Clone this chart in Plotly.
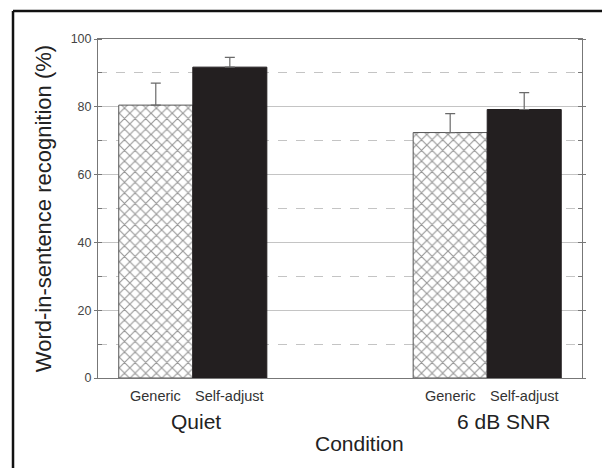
import plotly.graph_objects as go

groups = ["Quiet", "6 dB SNR"]
series_names = ["Generic", "Self-adjust"]
generic = [80.5, 72.4]
self_adjust = [91.7, 79.2]
generic_err = [6.5, 5.6]
self_err = [2.9, 5.0]
y_ticks = [0, 20, 40, 60, 80, 100]

FONT = "Liberation Sans, Arial, sans-serif"
BARGAP = 0.497
bar_w = (1 - BARGAP) / 2

fig = go.Figure()
fig.add_trace(go.Bar(
    x=groups, y=generic, name=series_names[0],
    marker=dict(color="white", line=dict(color="#555555", width=1),
                pattern=dict(shape="x", size=7.5, solidity=0.28,
                             fgcolor="#2e2e2e", bgcolor="white", fillmode="overlay")),
    error_y=dict(type="data", symmetric=False, array=generic_err,
                 arrayminus=[0] * len(generic), color="#6a6a6a", thickness=1.2, width=5),
))
fig.add_trace(go.Bar(
    x=groups, y=self_adjust, name=series_names[1],
    marker=dict(color="#231f20", line=dict(color="#231f20", width=1)),
    error_y=dict(type="data", symmetric=False, array=self_err,
                 arrayminus=[0] * len(self_adjust), color="#6a6a6a", thickness=1.2, width=5),
))

ann = []
for i, g in enumerate(groups):
    for j, s in enumerate(series_names):
        ann.append(dict(x=i + (j - 0.5) * bar_w, y=-0.053, xref="x", yref="paper",
                        text=s, showarrow=False, yanchor="middle",
                        font=dict(size=14.5, color="#333333", family=FONT)))
    ann.append(dict(x=i, y=-0.128, xref="x", yref="paper", text=g, showarrow=False,
                    yanchor="middle", xshift=3 if i == 0 else 16,
                    font=dict(size=21, color="#222222", family=FONT)))
ann.append(dict(x=0.541, y=-0.193, xref="paper", yref="paper", text="Condition",
                showarrow=False, yanchor="middle",
                font=dict(size=21, color="#222222", family=FONT)))

fig.update_layout(
    width=602, height=468,
    margin=dict(l=98, r=20, t=39, b=90),
    paper_bgcolor="white", plot_bgcolor="white",
    barmode="group", bargap=BARGAP, bargroupgap=0,
    showlegend=False,
    annotations=ann,
    font=dict(family=FONT),
    shapes=[
        dict(type="line", xref="paper", yref="paper", x0=-0.1756, x1=-0.1756,
             y0=1.0826, y1=-0.30, line=dict(color="#111111", width=2.5)),
        dict(type="line", xref="paper", yref="paper", x0=-0.1756, x1=1.1,
             y0=1.0826, y1=1.0826, line=dict(color="#111111", width=2.5)),
    ],
)
fig.update_xaxes(
    range=[-0.322, 1.322], showticklabels=False, ticks="",
    showline=True, linecolor="#777777", linewidth=1, mirror=True,
    showgrid=False, zeroline=False,
)
fig.update_yaxes(
    range=[0, 100], tickvals=y_ticks, ticks="outside", ticklen=3, tickcolor="#777777",
    tickfont=dict(size=12.5, color="#444444", family=FONT),
    showline=True, linecolor="#777777", linewidth=1, mirror="ticks",
    showgrid=True, gridcolor="#c4c4c4", gridwidth=1, zeroline=False,
    minor=dict(dtick=10, showgrid=True, gridcolor="#c4c4c4", griddash="dash",
               ticks="inside", ticklen=4, tickcolor="#777777"),
    title=dict(text="Word-in-sentence recognition (%)", standoff=12,
               font=dict(size=22, color="#222222", family=FONT)),
)

fig.write_html("out.html")
